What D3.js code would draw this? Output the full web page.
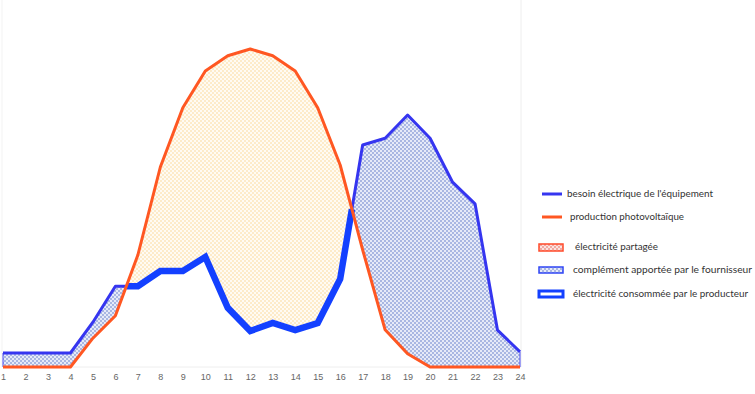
<!DOCTYPE html>
<html>
<head>
<meta charset="utf-8">
<script src="https://cdn.jsdelivr.net/npm/d3@7"></script>
<style>
  body { margin: 0; background: #fff; }
  svg { display: block; font-family: Lato, "Open Sans", sans-serif; }
  .tick text { fill: #666; font-size: 9px; }
  .legend text { fill: #333; font-size: 9.8px; }
</style>
</head>
<body>
<svg id="chart" width="755" height="394"></svg>
<script>
// heures de la journée
var hours = d3.range(1, 25);
// besoin électrique de l'équipement
var besoin = [0.35, 0.35, 0.35, 0.35, 1.12, 2.02, 2.02, 2.4, 2.4, 2.75, 1.48, 0.9,
              1.1, 0.92, 1.1, 2.2, 5.55, 5.72, 6.3, 5.72, 4.62, 4.08, 0.92, 0.38];
// production photovoltaïque
var production = [0, 0, 0, 0, 0.72, 1.28, 2.8, 5.0, 6.48, 7.4, 7.78, 7.95,
                  7.78, 7.4, 6.48, 5.05, 2.93, 0.93, 0.33, 0, 0, 0, 0, 0];
var legendLabels = [
  "besoin électrique de l'équipement",
  "production photovoltaïque",
  "électricité partagée",
  "complément apportée par le fournisseur",
  "électricité consommée par le producteur"
];

var svg = d3.select('#chart');
var x = d3.scaleLinear().domain([1, 24]).range([3, 520]);
var y = d3.scaleLinear().domain([0, 9]).range([367, 7]);

// points + intersections des deux courbes
var pts = [];
hours.forEach(function(h, i) {
  pts.push({h: h, need: besoin[i], prod: production[i]});
  if (i < hours.length - 1) {
    var d0 = production[i] - besoin[i], d1 = production[i+1] - besoin[i+1];
    if (d0 * d1 < 0) {
      var t = d0 / (d0 - d1);
      var v = besoin[i] + t * (besoin[i+1] - besoin[i]);
      pts.push({h: h + t, need: v, prod: v});
    }
  }
});

var defs = svg.append('defs');
function checker(id, bg, fg) {
  var p = defs.append('pattern').attr('id', id).attr('width', 4).attr('height', 4)
    .attr('patternUnits', 'userSpaceOnUse');
  p.append('rect').attr('width', 4).attr('height', 4).attr('fill', bg);
  p.append('rect').attr('width', 2).attr('height', 2).attr('fill', fg);
  p.append('rect').attr('x', 2).attr('y', 2).attr('width', 2).attr('height', 2).attr('fill', fg);
}
checker('pBlue', '#e6eaf8', '#a9b7e2');
checker('pBeige', '#fffbf3', '#fdebc9');
checker('pPink', '#fbe3e0', '#f0a9a2');

// cadre léger
svg.append('line').attr('x1', 3).attr('x2', 521).attr('y1', 367).attr('y2', 367)
  .attr('stroke', '#eee');
svg.append('line').attr('x1', 521).attr('x2', 521).attr('y1', 0).attr('y2', 367)
  .attr('stroke', '#eee');
svg.append('line').attr('x1', 2).attr('x2', 2).attr('y1', 0).attr('y2', 367)
  .attr('stroke', '#f3f3f3');

var surplus = function(d) { return d.prod >= d.need - 1e-9; };
var manque = function(d) { return d.need >= d.prod - 1e-9; };

svg.append('path').datum(pts)
  .attr('d', d3.area().defined(surplus)
    .x(function(d) { return x(d.h); })
    .y0(function(d) { return y(d.need); })
    .y1(function(d) { return y(d.prod); }))
  .attr('fill', 'url(#pBeige)');

svg.append('path').datum(pts)
  .attr('d', d3.area().defined(manque)
    .x(function(d) { return x(d.h); })
    .y0(function(d) { return y(d.prod); })
    .y1(function(d) { return y(d.need); }))
  .attr('fill', 'url(#pBlue)')
  .attr('stroke', '#4a4af0').attr('stroke-width', 1);

// besoin : fin où il dépasse la production, épais sinon
svg.append('path').datum(pts)
  .attr('d', d3.line().defined(manque)
    .x(function(d) { return x(d.h); }).y(function(d) { return y(d.need); }))
  .attr('fill', 'none').attr('stroke', '#3535f0').attr('stroke-width', 3)
  .attr('stroke-linejoin', 'round');
svg.append('path').datum(pts)
  .attr('d', d3.line().defined(surplus)
    .x(function(d) { return x(d.h); }).y(function(d) { return y(d.need); }))
  .attr('fill', 'none').attr('stroke', '#1340ff').attr('stroke-width', 6.5)
  .attr('stroke-linejoin', 'miter');

svg.append('path').datum(pts)
  .attr('d', d3.line()
    .x(function(d) { return x(d.h); }).y(function(d) { return y(d.prod); }))
  .attr('fill', 'none').attr('stroke', '#ff5722').attr('stroke-width', 3)
  .attr('stroke-linejoin', 'round');

var xAxis = svg.append('g').attr('transform', 'translate(0,367)')
  .call(d3.axisBottom(x).tickValues(hours).tickFormat(d3.format('d')).tickSize(0).tickPadding(7));
xAxis.select('.domain').remove();

// légende
var lg = svg.append('g').attr('class', 'legend');
var rows = [194, 217, 247, 270, 294];
lg.append('line').attr('x1', 542).attr('x2', 562).attr('y1', rows[0]).attr('y2', rows[0])
  .attr('stroke', '#3535f0').attr('stroke-width', 3);
lg.append('line').attr('x1', 542).attr('x2', 562).attr('y1', rows[1]).attr('y2', rows[1])
  .attr('stroke', '#ff5722').attr('stroke-width', 3);
lg.append('rect').attr('x', 539).attr('y', rows[2] - 3).attr('width', 24).attr('height', 7)
  .attr('fill', 'url(#pPink)').attr('stroke', '#ff4a2a').attr('stroke-width', 1.5);
lg.append('rect').attr('x', 539).attr('y', rows[3] - 3).attr('width', 24).attr('height', 6)
  .attr('fill', 'url(#pBlue)').attr('stroke', '#2f45f5').attr('stroke-width', 1.5);
lg.append('rect').attr('x', 539).attr('y', rows[4] - 3).attr('width', 24).attr('height', 6)
  .attr('fill', '#fff').attr('stroke', '#1340ff').attr('stroke-width', 3);
var textX = [567, 570, 575, 573, 573];
var textW = [146, 114, 83, 179, 175];
legendLabels.forEach(function(t, i) {
  lg.append('text').attr('x', textX[i]).attr('y', rows[i]).attr('dy', '0.35em')
    .attr('textLength', textW[i]).attr('lengthAdjust', 'spacingAndGlyphs')
    .text(t);
});
</script>
</body>
</html>
